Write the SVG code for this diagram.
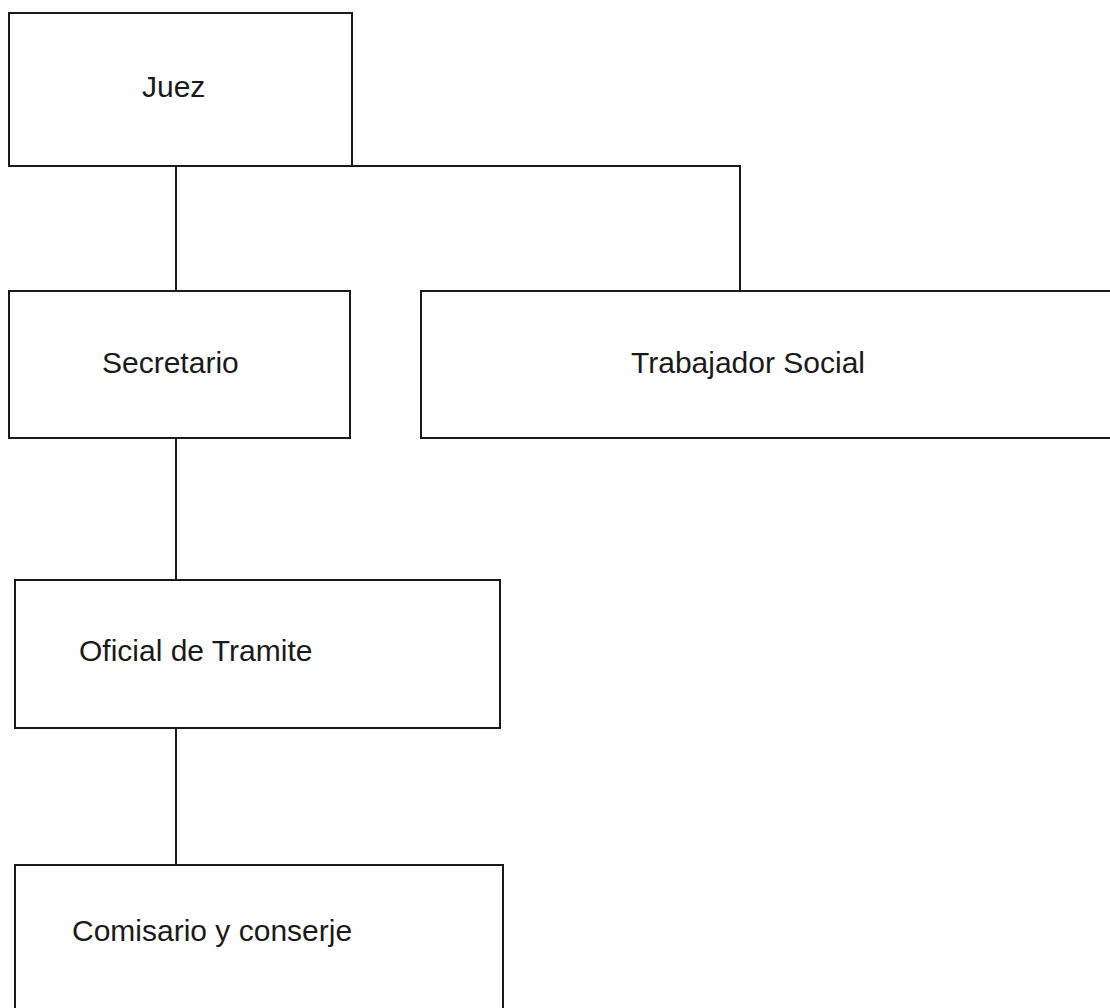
<svg xmlns="http://www.w3.org/2000/svg" width="1110" height="1008" viewBox="0 0 1110 1008">
<style>
.box{fill:#fff;stroke:#1a1a1a;stroke-width:2}
.lbl{font-family:"Liberation Sans",Arial,sans-serif;font-size:30px;fill:#1a1a1a}
.con{fill:none;stroke:#1a1a1a;stroke-width:2}
</style>
<rect width="1110" height="1008" fill="#fff"/>
<g id="connectors">
<line class="con" x1="176" y1="166" x2="176" y2="291"/>
<polyline class="con" points="352,166 740,166 740,291"/>
<line class="con" x1="176" y1="438" x2="176" y2="580"/>
<line class="con" x1="176" y1="728" x2="176" y2="865"/>
</g>
<g id="juez"><rect class="box" x="9" y="13" width="343" height="153"/><text class="lbl" x="142" y="97">Juez</text></g>
<g id="secretario"><rect class="box" x="9" y="291" width="341" height="147"/><text class="lbl" x="102" y="373">Secretario</text></g>
<g id="trabajador"><rect class="box" x="421" y="291" width="700" height="147"/><text class="lbl" x="631" y="373">Trabajador Social</text></g>
<g id="oficial"><rect class="box" x="15" y="580" width="485" height="148"/><text class="lbl" x="79" y="661">Oficial de Tramite</text></g>
<g id="comisario"><rect class="box" x="15" y="865" width="488" height="160"/><text class="lbl" x="72" y="941">Comisario y conserje</text></g>
</svg>
